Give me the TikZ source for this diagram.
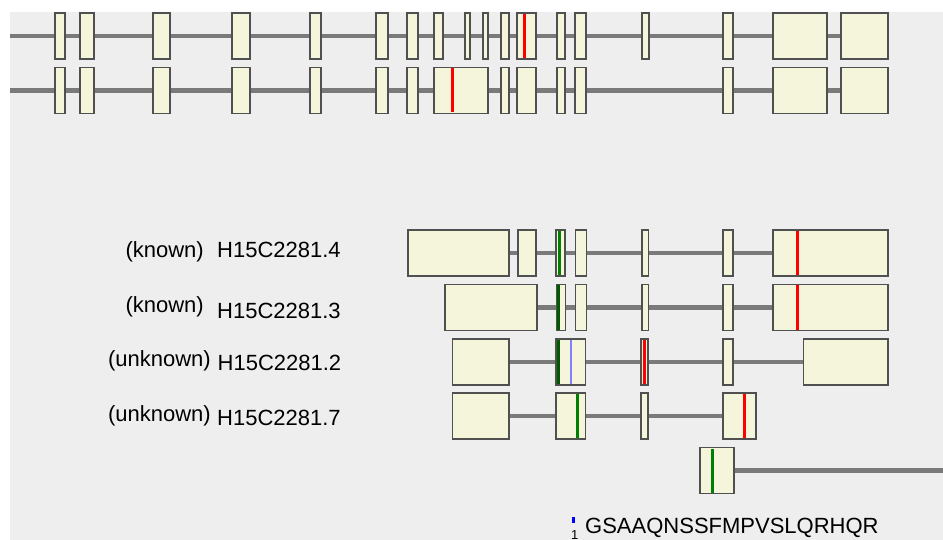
\documentclass[tikz,border=0pt]{standalone}
\usepackage{fontspec}
\setmainfont{Liberation Sans}
\usepackage{tikz}
\usetikzlibrary{positioning}
\definecolor{panel}{HTML}{EEEEEE}
\definecolor{exonfill}{HTML}{F5F5DC}
\definecolor{exonedge}{HTML}{505050}
\definecolor{intronline}{HTML}{7A7A7A}
\definecolor{markgreen}{HTML}{008000}
\definecolor{markdark}{HTML}{005A00}
\definecolor{markblue}{HTML}{8080FF}

\begin{document}
\begin{tikzpicture}[x=1pt, y=-1pt,
  intron/.style={draw=intronline, line width=4.5pt},
  exon/.style={draw=exonedge, fill=exonfill, line width=1.4pt},
  site/.style={line width=3pt},
  txname/.style={font=\fontsize{22}{26}\selectfont, inner sep=0pt, anchor=base west},
  status/.style={font=\fontsize{22}{26}\selectfont, inner sep=0pt, anchor=base east}
]

\useasboundingbox (0,0) rectangle (943,540);
\fill[white] (0,0) rectangle (943,540);
\fill[panel] (10,12) rectangle (943,540);

% genomic rows
\draw[intron] (10,36) -- (888,36);
\foreach \a/\b in {55/65, 80/94, 153/170, 232/250, 310/321, 376/388, 407/418, 434/443, 465/470, 483/488, 501/509, 517/536, 557/565, 575/586, 642/649, 723/733, 773/827, 841/888}
  \draw[exon] (\a,13) rectangle (\b,59);
\draw[site, red] (524,14) -- (524,58);

\draw[intron] (10,90.5) -- (888,90.5);
\foreach \a/\b in {55/65, 80/94, 153/170, 232/250, 310/321, 376/388, 407/418, 434/488, 501/509, 517/536, 557/565, 575/586, 723/733, 773/827, 841/888}
  \draw[exon] (\a,67.5) rectangle (\b,113.5);
\draw[site, red] (452.5,68.5) -- (452.5,112.5);

% transcripts
\node[status] (st4) at (204,257.5) {(known)};
\node[txname] (tr4) at (217,258) {H15C2281.4};
\draw[intron] (408,253) -- (888,253);
\foreach \a/\b in {408/509, 518/536, 556/565, 575.5/586.5, 642/648.5, 723/733, 773/888}
  \draw[exon] (\a,230) rectangle (\b,276);
\draw[site, markgreen] (559,231) -- (559,275);
\draw[site, red] (797,231) -- (797,275);

\node[status] (st3) at (204,312.5) {(known)};
\node[txname] (tr3) at (217,318) {H15C2281.3};
\draw[intron] (445,307.5) -- (888,307.5);
\foreach \a/\b in {445/537, 557/565.5, 575.5/586.5, 642/648.5, 723/733, 773/888}
  \draw[exon] (\a,284.5) rectangle (\b,330.5);
\draw[site, markdark] (558.5,285.5) -- (558.5,329.5);
\draw[site, red] (797,285.5) -- (797,329.5);

\node[status] (st2) at (211,366.5) {(unknown)};
\node[txname] (tr2) at (217.5,370.5) {H15C2281.2};
\draw[intron] (452.5,362) -- (888,362);
\foreach \a/\b in {452.5/509, 556/585.5, 641/648, 723/733, 803.5/888}
  \draw[exon] (\a,339) rectangle (\b,385);
\draw[site, markdark] (558,340) -- (558,384);
\draw[line width=2.5pt, markblue] (571,340) -- (571,384);
\draw[site, red] (644.5,340) -- (644.5,384);

\node[status] (st7) at (211,421) {(unknown)};
\node[txname] (tr7) at (217,425) {H15C2281.7};
\draw[intron] (452.5,416) -- (756,416);
\foreach \a/\b in {452.5/509, 556/585.5, 641/648, 723/756}
  \draw[exon] (\a,393) rectangle (\b,439);
\draw[site, markgreen] (577,394) -- (577,438);
\draw[site, red] (744,394) -- (744,438);

\draw[intron] (734,470.5) -- (946,470.5);
\draw[exon] (700,447.5) rectangle (734,493.5);
\draw[site, markgreen] (712,448.5) -- (712,492.5);

% peptide
\draw[line width=2.5pt, blue] (573.5,517) -- (573.5,523);
\node[txname, font=\fontsize{13}{15}\selectfont] (pos) at (571,539) {1};
\node[txname] (pep) at (585,533) {GSAAQNSSFMPVSLQRHQR};

\end{tikzpicture}
\end{document}
